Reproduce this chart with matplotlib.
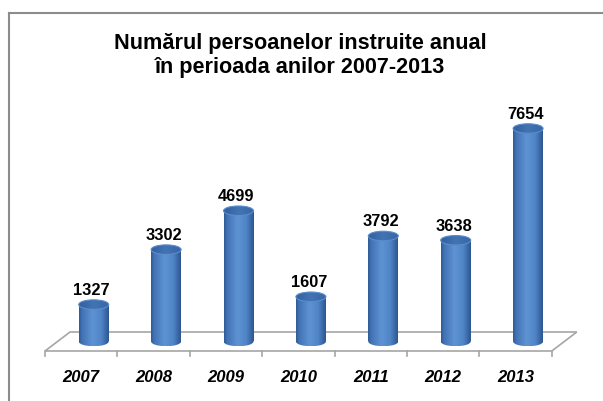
import numpy as np
import matplotlib
matplotlib.use('Agg')
import matplotlib.pyplot as plt
from matplotlib.patches import Polygon, Ellipse, Rectangle
from matplotlib.colors import LinearSegmentedColormap
from matplotlib.lines import Line2D

years = ['2007', '2008', '2009', '2010', '2011', '2012', '2013']
values = [1327, 3302, 4699, 1607, 3792, 3638, 7654]
title = 'Numărul persoanelor instruite anual\nîn perioada anilor 2007-2013'

W, H = 603, 401
fig = plt.figure(figsize=(W / 100, H / 100), dpi=100)
ax = fig.add_axes([0, 0, 1, 1])
ax.axis('off')

# layout (pixels)
x0_px, cat_px = 45, 72.4
floor_px = 50          # front floor edge, from bottom
dx_px, dy_px = 25, 19  # depth offset
s = 213 / 7654         # px per unit
xlim = (-0.5 - x0_px / cat_px, -0.5 + (W - x0_px) / cat_px)
ylim = (-floor_px / s, (H - floor_px) / s)
dx = dx_px / cat_px
dy = dy_px / s
r = 15 / cat_px
eh = 9.5 / s

FONT = 'Liberation Sans'

# floor
n = len(years)
floor = Polygon([(-0.5, 0), (n - 0.5, 0), (n - 0.5 + dx, dy), (-0.5 + dx, dy)],
                closed=True, facecolor='white', edgecolor='#A6A6A6', lw=1.2, zorder=1)
ax.add_patch(floor)
for i in range(n + 1):
    ax.plot([i - 0.5, i - 0.5], [0, -5 / s], color='#A6A6A6', lw=1.2, zorder=1)

body_cmap = LinearSegmentedColormap.from_list('body', [
    (0.0, '#2F5A95'), (0.1, '#4272B4'), (0.45, '#5E93D3'),
    (0.75, '#4F84C6'), (1.0, '#2C5690')])
top_cmap = LinearSegmentedColormap.from_list('top', [
    (0.0, '#32609E'), (0.5, '#4274B4'), (1.0, '#3866A6')])
grad = np.linspace(0, 1, 128)[None, :]

for i, (yr, v) in enumerate(zip(years, values)):
    cx = i + dx / 2
    cy = dy / 2
    # body rectangle
    rect = Rectangle((cx - r, cy), 2 * r, v, facecolor='none', edgecolor='none')
    ax.add_patch(rect)
    im = ax.imshow(grad, cmap=body_cmap, extent=(cx - r, cx + r, cy, cy + v),
                   aspect='auto', origin='lower', zorder=2, interpolation='bilinear')
    im.set_clip_path(rect)
    # bottom ellipse
    be = Ellipse((cx, cy), 2 * r, eh, facecolor='none', edgecolor='none')
    ax.add_patch(be)
    im2 = ax.imshow(grad, cmap=body_cmap, extent=(cx - r, cx + r, cy - eh / 2, cy),
                    aspect='auto', origin='lower', zorder=2, interpolation='bilinear')
    im2.set_clip_path(be)
    # top ellipse
    te = Ellipse((cx, cy + v), 2 * r, eh, facecolor='none', edgecolor='#5B8CCC', lw=0.8, zorder=4)
    ax.add_patch(te)
    im3 = ax.imshow(grad, cmap=top_cmap,
                    extent=(cx - r, cx + r, cy + v - eh / 2, cy + v + eh / 2),
                    aspect='auto', origin='lower', zorder=3, interpolation='bilinear')
    im3.set_clip_path(te)
    # value label
    ax.text(cx - 0.03, cy + v + 14 / s, f'{v}', ha='center', va='center',
            fontsize=11.8, fontweight='bold', family=FONT, color='black', zorder=5)
    # category label
    ax.text(i, -27 / s, yr, ha='center', va='center', fontsize=12,
            fontweight='bold', fontstyle='italic', family=FONT, color='black')

ax.set_xlim(*xlim)
ax.set_ylim(*ylim)

# title
fig.text(300 / W, 1 - 55.5 / H, title, ha='center', va='center', fontsize=15.6,
         fontweight='bold', family=FONT, linespacing=1.22)

# frame
fig.add_artist(Line2D([9 / W, 1], [1 - 12.5 / H, 1 - 12.5 / H],
                      transform=fig.transFigure, color='#8C8C8C', lw=1.5))
fig.add_artist(Line2D([9 / W, 9 / W], [0, 1 - 12.5 / H],
                      transform=fig.transFigure, color='#8C8C8C', lw=1.5))

fig.savefig('out.png', dpi=100)
